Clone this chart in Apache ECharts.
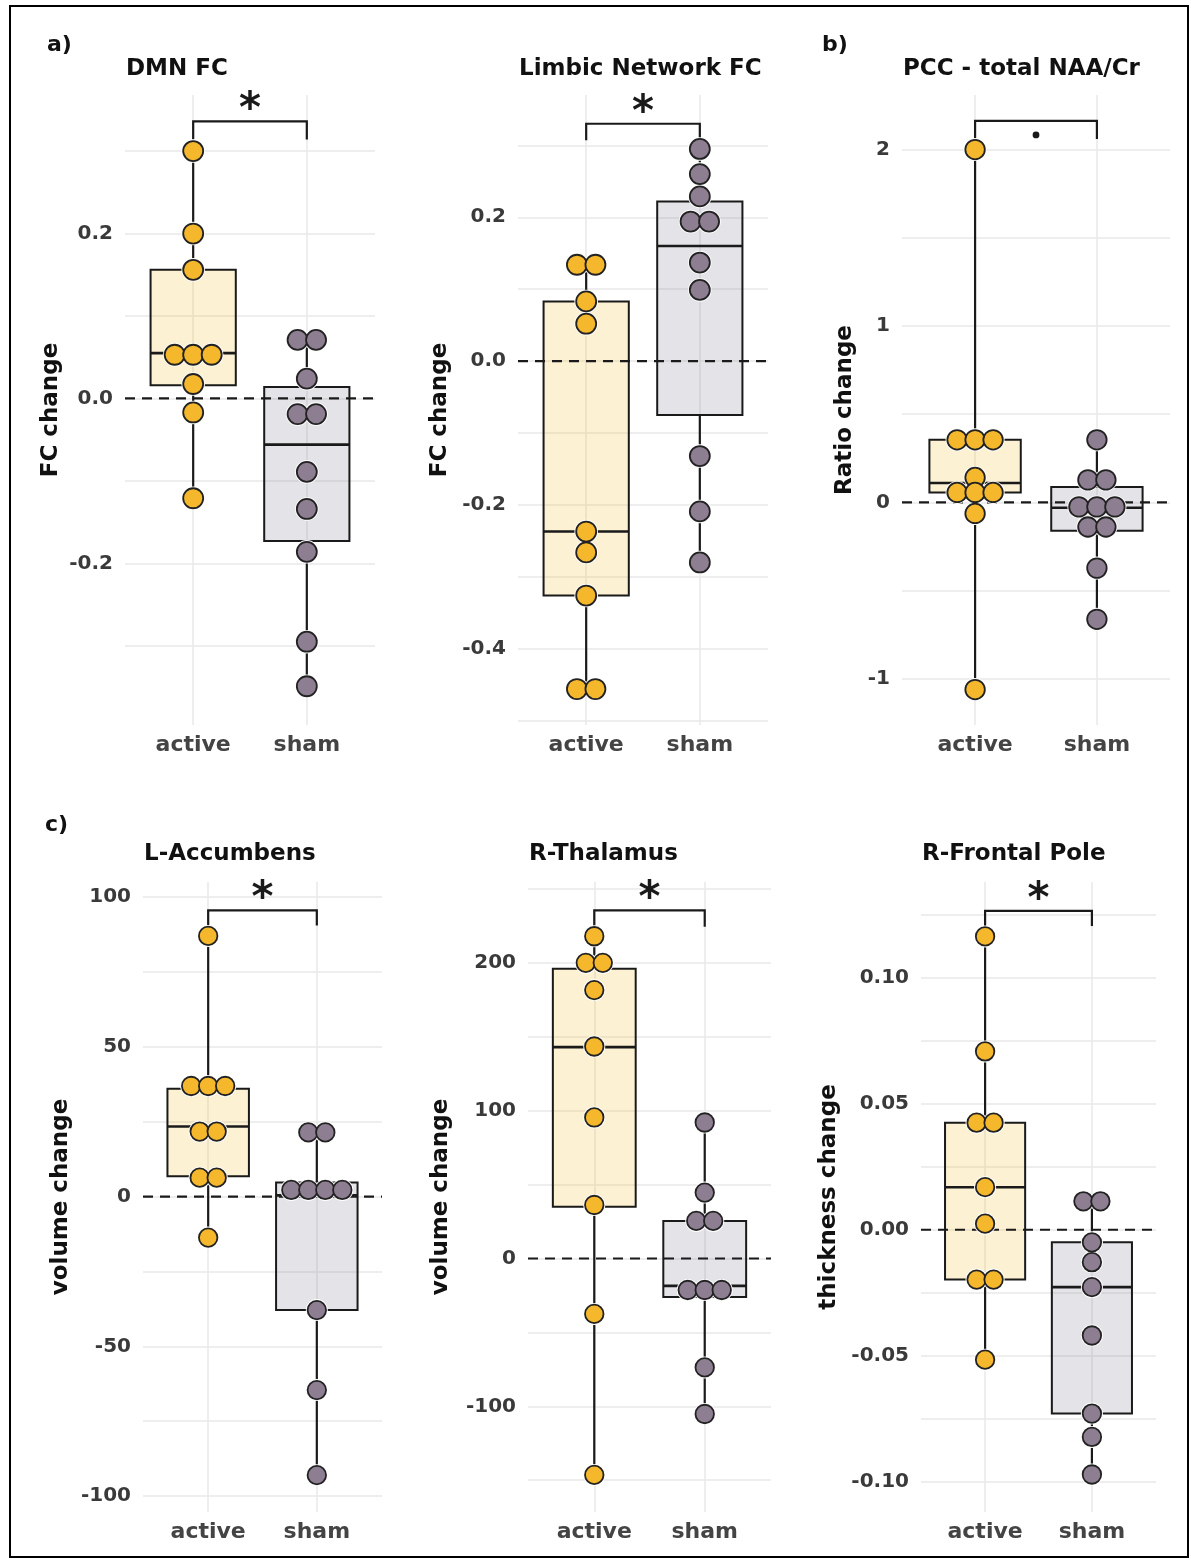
<!DOCTYPE html>
<html>
<head>
<meta charset="utf-8">
<script src="https://cdn.jsdelivr.net/npm/echarts@6/dist/echarts.min.js"></script>
<style>
html, body { margin: 0; padding: 0; background: #fff; }
#container { width: 1191px; height: 1563px; }
</style>
</head>
<body>
<div id="container"></div>
<script>
let chart = echarts.init(document.getElementById('container'));

let groups = ['active', 'sham'];
let titles = ['DMN FC', 'Limbic Network FC', 'PCC - total NAA/Cr', 'L-Accumbens', 'R-Thalamus', 'R-Frontal Pole'];
let yNames = ['FC change', 'FC change', 'Ratio change', 'volume change', 'volume change', 'thickness change'];
let signif = ['*', '*', '.', '*', '*', '*'];

// dots (one value per subject)
let dmnActive = [0.30, 0.20, 0.156, 0.053, 0.053, 0.053, 0.0175, -0.017, -0.121];
let dmnSham = [0.071, 0.071, 0.024, -0.019, -0.019, -0.089, -0.134, -0.186, -0.295, -0.349];
let limbicActive = [0.134, 0.134, 0.083, 0.052, -0.237, -0.266, -0.326, -0.456, -0.456];
let limbicSham = [0.295, 0.260, 0.229, 0.194, 0.194, 0.137, 0.099, -0.132, -0.209, -0.280];
let pccActive = [2.0, 0.355, 0.355, 0.355, 0.142, 0.057, 0.057, 0.057, -0.062, -1.06];
let pccSham = [0.355, 0.128, 0.128, -0.025, -0.025, -0.025, -0.139, -0.139, -0.372, -0.662];
let accActive = [87, 36.9, 36.9, 36.9, 21.7, 21.7, 6.3, 6.3, -13.7];
let accSham = [21.4, 21.4, 2.2, 2.2, 2.2, 2.2, -37.9, -64.6, -93];
let thalActive = [218, 200, 200, 181.6, 143.4, 95.4, 36.2, -37.5, -146.4];
let thalSham = [92, 44.6, 25.4, 25.4, -21.3, -21.3, -21.3, -73.7, -105.2];
let poleActive = [0.1165, 0.0708, 0.0425, 0.0425, 0.0169, 0.0024, -0.0198, -0.0198, -0.0516];
let poleSham = [0.0113, 0.0113, -0.005, -0.0129, -0.0228, -0.042, -0.073, -0.0823, -0.0972];

// boxes: [min, q1, median, q3, max] for active, sham
let dmnBox = [[-0.121, 0.016, 0.055, 0.156, 0.30], [-0.349, -0.173, -0.056, 0.014, 0.071]];
let limbicBox = [[-0.456, -0.326, -0.237, 0.083, 0.134], [-0.280, -0.075, 0.160, 0.222, 0.295]];
let pccBox = [[-1.06, 0.057, 0.11, 0.355, 2.0], [-0.662, -0.16, -0.03, 0.088, 0.355]];
let accBox = [[-13.7, 6.8, 23.4, 36.0, 87], [-93, -37.9, 0.4, 4.7, 21.4]];
let thalBox = [[-146.4, 35, 143, 196, 218], [-105.2, -26, -18.5, 25.4, 92]];
let poleBox = [[-0.0516, -0.0198, 0.0169, 0.0425, 0.1165], [-0.0972, -0.073, -0.0228, -0.005, 0.0113]];

// significance brackets: [bar level, tip level]
let brackets = [[0.336, 0.314], [0.330, 0.307], [2.162, 2.06], [95.5, 90.5], [235.5, 224.5], [0.1266, 0.1206]];

// y axes
let yRange = [[-0.396, 0.368], [-0.506, 0.370], [-1.261, 2.309], [-105.3, 105.0], [-171.5, 254.7], [-0.1121, 0.1381]];
let yLabels = [
    [-0.2, 0, 0.2],
    [-0.4, -0.2, 0, 0.2],
    [-1, 0, 1, 2],
    [-100, -50, 0, 50, 100],
    [-100, 0, 100, 200],
    [-0.10, -0.05, 0, 0.05, 0.10],
];
let yGrid = [
    [-0.3, -0.2, -0.1, 0, 0.1, 0.2, 0.3],
    [-0.5, -0.4, -0.3, -0.2, -0.1, 0, 0.1, 0.2, 0.3],
    [-1, -0.5, 0, 0.5, 1, 1.5, 2],
    [-100, -75, -50, -25, 0, 25, 50, 75, 100],
    [-150, -100, -50, 0, 50, 100, 150, 200, 250],
    [-0.100, -0.075, -0.050, -0.025, 0, 0.025, 0.050, 0.075, 0.100, 0.125],
];
let yDecimals = [1, 1, 0, 0, 0, 2];

let dots = [
    [dmnActive, dmnSham], [limbicActive, limbicSham], [pccActive, pccSham],
    [accActive, accSham], [thalActive, thalSham], [poleActive, poleSham],
];
let boxes = [dmnBox, limbicBox, pccBox, accBox, thalBox, poleBox];

// layout
let grids = [
    {left: 125, top: 95, width: 250, height: 630},
    {left: 518, top: 95, width: 250, height: 630},
    {left: 902, top: 95, width: 268, height: 630},
    {left: 143, top: 882, width: 239, height: 630},
    {left: 528, top: 882, width: 243, height: 630},
    {left: 921, top: 882, width: 235, height: 630},
];
let nameGaps = [62, 66, 45, 70, 75, 80];
let dotSize = [20, 20, 19.5, 18.5, 18.5, 18.5];

let FONT = 'DejaVu Sans';
let dotColors = ['#F5B82C', '#8D7E91'];
let boxFills = ['rgba(240,188,45,0.21)', 'rgba(120,115,140,0.2)'];
let INK = '#1a1a1a';
let BOX_HALF = 0.375;

function dotData(values, cat, step) {
    let counts = {}, seen = {};
    values.forEach(v => counts[v] = (counts[v] || 0) + 1);
    return values.map(v => {
        seen[v] = seen[v] === undefined ? 0 : seen[v] + 1;
        let dx = (seen[v] - (counts[v] - 1) / 2) * step;
        return {value: [cat, v], symbolOffset: [dx, 0]};
    });
}

function renderBox(params, api) {
    let cat = api.value(0);
    let top = api.coord([cat, api.value(5)]);
    let bot = api.coord([cat, api.value(1)]);
    let tl = api.coord([cat - BOX_HALF, api.value(4)]);
    let br = api.coord([cat + BOX_HALF, api.value(2)]);
    let med = api.coord([cat, api.value(3)]);
    let cx = top[0];
    return {
        type: 'group',
        children: [
            {type: 'rect', shape: {x: tl[0], y: tl[1], width: br[0] - tl[0], height: br[1] - tl[1]},
                style: {fill: boxFills[cat - 1], stroke: INK, lineWidth: 2}},
            {type: 'line', shape: {x1: cx, y1: top[1], x2: cx, y2: tl[1]}, style: {stroke: INK, lineWidth: 2.2}},
            {type: 'line', shape: {x1: cx, y1: br[1], x2: cx, y2: bot[1]}, style: {stroke: INK, lineWidth: 2.2}},
            {type: 'line', shape: {x1: tl[0], y1: med[1], x2: br[0], y2: med[1]}, style: {stroke: INK, lineWidth: 2.6}},
        ]
    };
}

function renderZero(params, api) {
    let cs = params.coordSys;
    let y = api.coord([1, 0])[1];
    return {type: 'line', shape: {x1: cs.x, y1: y, x2: cs.x + cs.width, y2: y},
        style: {stroke: INK, lineWidth: 2.2, lineDash: [10, 7]}};
}

function makeBracket(label) {
    return function (params, api) {
        let bar = api.value(0), tip = api.value(1);
        let a = api.coord([1, tip]), b = api.coord([1, bar]), c = api.coord([2, bar]), d = api.coord([2, tip]);
        let mid = (b[0] + c[0]) / 2;
        let children = [{type: 'polyline', shape: {points: [a, b, c, d]},
            style: {stroke: INK, fill: null, lineWidth: 2.2}}];
        if (label === '.') {
            children.push({type: 'circle', shape: {cx: mid, cy: b[1] + 14, r: 3.4}, style: {fill: INK}});
        } else {
            children.push({type: 'text', style: {text: label, x: mid, y: b[1] - 10, align: 'center', verticalAlign: 'middle',
                font: 'bold 42px ' + FONT, fill: INK}});
        }
        return {type: 'group', children: children};
    };
}

let option = {
    backgroundColor: '#fff',
    animation: false,
    title: [],
    grid: [],
    xAxis: [],
    yAxis: [],
    series: [],
    graphic: [{
        type: 'rect', shape: {x: 10, y: 6, width: 1178, height: 1551},
        style: {fill: null, stroke: '#000', lineWidth: 2}, silent: true
    }],
};

let letters = [['a)', 47, 34], ['b)', 822, 34], ['c)', 45, 814]];
letters.forEach(l => {
    option.title.push({text: l[0], left: l[1], top: l[2], padding: 0,
        textStyle: {fontFamily: FONT, fontWeight: 'bold', fontSize: 22, color: '#111'}});
});

titles.forEach((t, i) => {
    let g = grids[i];
    option.title.push({text: t, left: g.left + 1, top: i < 3 ? 58 : 843, padding: 0,
        textStyle: {fontFamily: FONT, fontWeight: 'bold', fontSize: 23, color: '#111'}});

    option.grid.push(g);
    option.xAxis.push({
        type: 'value', gridIndex: i, min: 0.4, max: 2.6,
        axisLine: {show: false},
        axisTick: {show: false, customValues: [1, 2]},
        axisLabel: {customValues: [1, 2], formatter: v => groups[Math.round(v) - 1], margin: 9,
            fontFamily: FONT, fontWeight: 'bold', fontSize: 22, color: '#444'},
        splitLine: {show: true, lineStyle: {color: '#e8e8e8', width: 1.5}},
    });
    option.yAxis.push({
        type: 'value', gridIndex: i, min: yRange[i][0], max: yRange[i][1],
        name: yNames[i], nameLocation: 'middle', nameGap: nameGaps[i],
        nameTextStyle: {fontFamily: FONT, fontWeight: 'bold', fontSize: 23, color: '#111'},
        axisLine: {show: false},
        axisTick: {show: false, customValues: yGrid[i]},
        axisLabel: {customValues: yLabels[i], formatter: v => v.toFixed(yDecimals[i]), margin: 12,
            fontFamily: FONT, fontWeight: 'bold', fontSize: 20, color: '#3a3a3a'},
        splitLine: {show: true, lineStyle: {color: '#e8e8e8', width: 1.5}},
    });

    let axes = {xAxisIndex: i, yAxisIndex: i};
    option.series.push(Object.assign({
        type: 'custom', renderItem: renderBox, silent: true,
        data: boxes[i].map((b, k) => [k + 1].concat(b)),
    }, axes));
    option.series.push(Object.assign({
        type: 'custom', renderItem: renderZero, silent: true, data: [[1, 0]],
    }, axes));
    option.series.push(Object.assign({
        type: 'custom', renderItem: makeBracket(signif[i]), silent: true, data: [brackets[i]],
    }, axes));

    let step = dotSize[i] - 1.5;
    let active = dotData(dots[i][0], 1, step);
    let sham = dotData(dots[i][1], 2, step);
    option.series.push(Object.assign({
        type: 'scatter', silent: true, symbolSize: dotSize[i] + 3.5,
        itemStyle: {color: '#fff', opacity: 1},
        data: active.concat(sham),
    }, axes));
    [active, sham].forEach((d, k) => {
        option.series.push(Object.assign({
            type: 'scatter', name: groups[k], symbolSize: dotSize[i],
            itemStyle: {color: dotColors[k], borderColor: '#222', borderWidth: 1.8, opacity: 1},
            data: d,
        }, axes));
    });
});

chart.setOption(option);
</script>
</body>
</html>
